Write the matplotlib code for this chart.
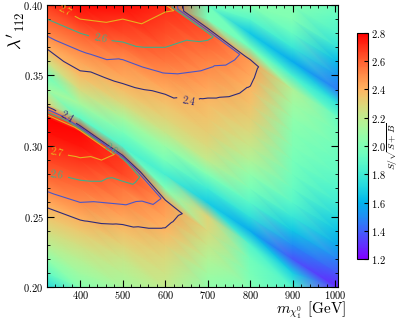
import numpy as np
import matplotlib
matplotlib.use("Agg")
import matplotlib.pyplot as plt
import matplotlib.tri as mtri
from matplotlib.ticker import MultipleLocator

plt.rcParams.update({
    "font.family": "serif",
    "font.serif": ["cmr10", "DejaVu Serif"],
    "mathtext.fontset": "cm",
    "axes.formatter.use_mathtext": True,
    "axes.unicode_minus": False,
})

# grid coordinates (neutralino mass in GeV, coupling lambda'_112)
mass = [322, 400, 500, 600, 700, 800, 900, 1006]
lam = [0.20, 0.21, 0.22, 0.23, 0.24, 0.25, 0.26, 0.27, 0.28, 0.29, 0.30,
       0.31, 0.32, 0.33, 0.34, 0.35, 0.36, 0.37, 0.38, 0.39, 0.40]

# S/sqrt(S+B) per mass column, listed from lambda=0.20 up to lambda=0.40
sig_m322 = [1.72, 1.90, 2.05, 2.18, 2.27, 2.35, 2.43, 2.52, 2.60, 2.66, 2.72,
            2.77, 2.80, 2.30, 2.10, 1.95, 2.25, 2.42, 2.52, 2.60, 2.68]
sig_m400 = [2.02, 2.10, 2.18, 2.26, 2.34, 2.42, 2.50, 2.56, 2.63, 2.69, 2.75,
            2.78, 1.90, 2.12, 2.28, 2.38, 2.44, 2.52, 2.60, 2.70, 2.78]
sig_m500 = [2.12, 2.17, 2.23, 2.30, 2.37, 2.44, 2.51, 2.55, 2.65, 2.68, 1.85,
            1.97, 2.12, 2.28, 2.37, 2.44, 2.49, 2.57, 2.65, 2.70, 2.78]
sig_m600 = [2.20, 2.24, 2.28, 2.33, 2.39, 2.44, 2.48, 2.00, 1.82, 1.97, 2.08,
            2.22, 2.30, 2.36, 2.42, 2.49, 2.55, 2.60, 2.64, 2.68, 2.72]
sig_m700 = [2.05, 2.10, 2.16, 2.22, 2.28, 2.30, 1.68, 1.80, 2.00, 2.20, 2.28,
            2.32, 2.35, 2.38, 2.43, 2.48, 2.52, 2.58, 2.62, 1.98, 1.95]
sig_m800 = [2.00, 1.98, 1.95, 1.85, 1.58, 1.75, 1.88, 1.98, 2.05, 2.15, 2.22,
            2.28, 2.32, 2.36, 2.39, 2.43, 2.46, 1.95, 1.66, 1.88, 2.02]
sig_m900 = [1.85, 1.68, 1.38, 1.50, 1.65, 1.78, 1.88, 1.92, 1.95, 1.97, 2.00,
            2.02, 2.05, 2.10, 2.15, 1.82, 1.58, 1.78, 1.92, 2.00, 2.02]
sig_m1006 = [1.28, 1.38, 1.48, 1.57, 1.64, 1.72, 1.80, 1.86, 1.90, 1.93, 1.95,
             1.95, 1.92, 1.76, 1.46, 1.52, 1.62, 1.76, 1.85, 1.90, 1.95]

contour_levels = [2.4, 2.5, 2.6, 2.7]
cbar_ticks = [1.2, 1.4, 1.6, 1.8, 2.0, 2.2, 2.4, 2.6, 2.8]

columns = [sig_m322, sig_m400, sig_m500, sig_m600,
           sig_m700, sig_m800, sig_m900, sig_m1006]
Z = np.column_stack(columns)
X, Y = np.meshgrid(mass, lam)
nx, ny = len(mass), len(lam)

# triangulate column strips along the diagonal direction of the valleys
shear = 2.1  # rows per 100 GeV
def node(i, j):
    return j * nx + i
tris = []
for i in range(nx - 1):
    offL = shear * (mass[i] - mass[0]) / 100.0
    offR = shear * (mass[i + 1] - mass[0]) / 100.0
    p, q = 0, 0
    while p < ny - 1 or q < ny - 1:
        vp = (p + 1 + offL) if p < ny - 1 else np.inf
        vq = (q + 1 + offR) if q < ny - 1 else np.inf
        if vp <= vq:
            tris.append([node(i, p), node(i, p + 1), node(i + 1, q)])
            p += 1
        else:
            tris.append([node(i, p), node(i + 1, q + 1), node(i + 1, q)])
            q += 1
tri = mtri.Triangulation(X.ravel(), Y.ravel(), triangles=np.array(tris))

fig = plt.figure(figsize=(3.99, 3.2), dpi=100)
ax = fig.add_axes([0.1178, 0.1031, 0.7293, 0.8813])
cax = fig.add_axes([0.8947, 0.1906, 0.0276, 0.7063])

tpc = ax.tripcolor(tri, Z.ravel(), shading="gouraud", cmap="rainbow",
                   vmin=1.2, vmax=2.8)
line_colors = ["#2e2a7a", "#4b55c8", "#3fae8a", "#e8b020"]
cs = ax.tricontour(tri, Z.ravel(), levels=contour_levels, colors=line_colors,
                   linewidths=0.8)
ax.clabel(cs, fmt="%.1f", fontsize=7.5, inline=True,
          manual=[(365, 0.397), (345, 0.296), (445, 0.374), (345, 0.280),
                  (470, 0.297), (660, 0.337), (372, 0.323)])

ax.set_xlim(322, 1006)
ax.set_ylim(0.20, 0.40)
ax.xaxis.set_major_locator(MultipleLocator(100))
ax.xaxis.set_minor_locator(MultipleLocator(20))
ax.yaxis.set_major_locator(MultipleLocator(0.05))
ax.yaxis.set_minor_locator(MultipleLocator(0.01))
ax.tick_params(which="both", direction="in", top=True, right=True,
               labelsize=7.5, pad=2.5)
ax.tick_params(axis="x", which="both", pad=1.5)
ax.tick_params(which="major", length=5)
ax.tick_params(which="minor", length=2.5)

ax.set_xlabel(r"$m_{\chi_1^0}$ [GeV]", fontsize=11, ha="right",
              va="baseline")
ax.xaxis.set_label_coords(1.03, -0.096)
ax.set_ylabel(r"$\lambda'_{112}$", fontsize=13)
ax.yaxis.set_label_coords(-0.068, 0.91)

cb = fig.colorbar(tpc, cax=cax, ticks=cbar_ticks)
cb.ax.tick_params(labelsize=7.5, direction="in", length=3, pad=2)
cb.set_label(r"$S/\sqrt{S+B}$", fontsize=7, labelpad=0)

fig.savefig("out.png", dpi=100)
